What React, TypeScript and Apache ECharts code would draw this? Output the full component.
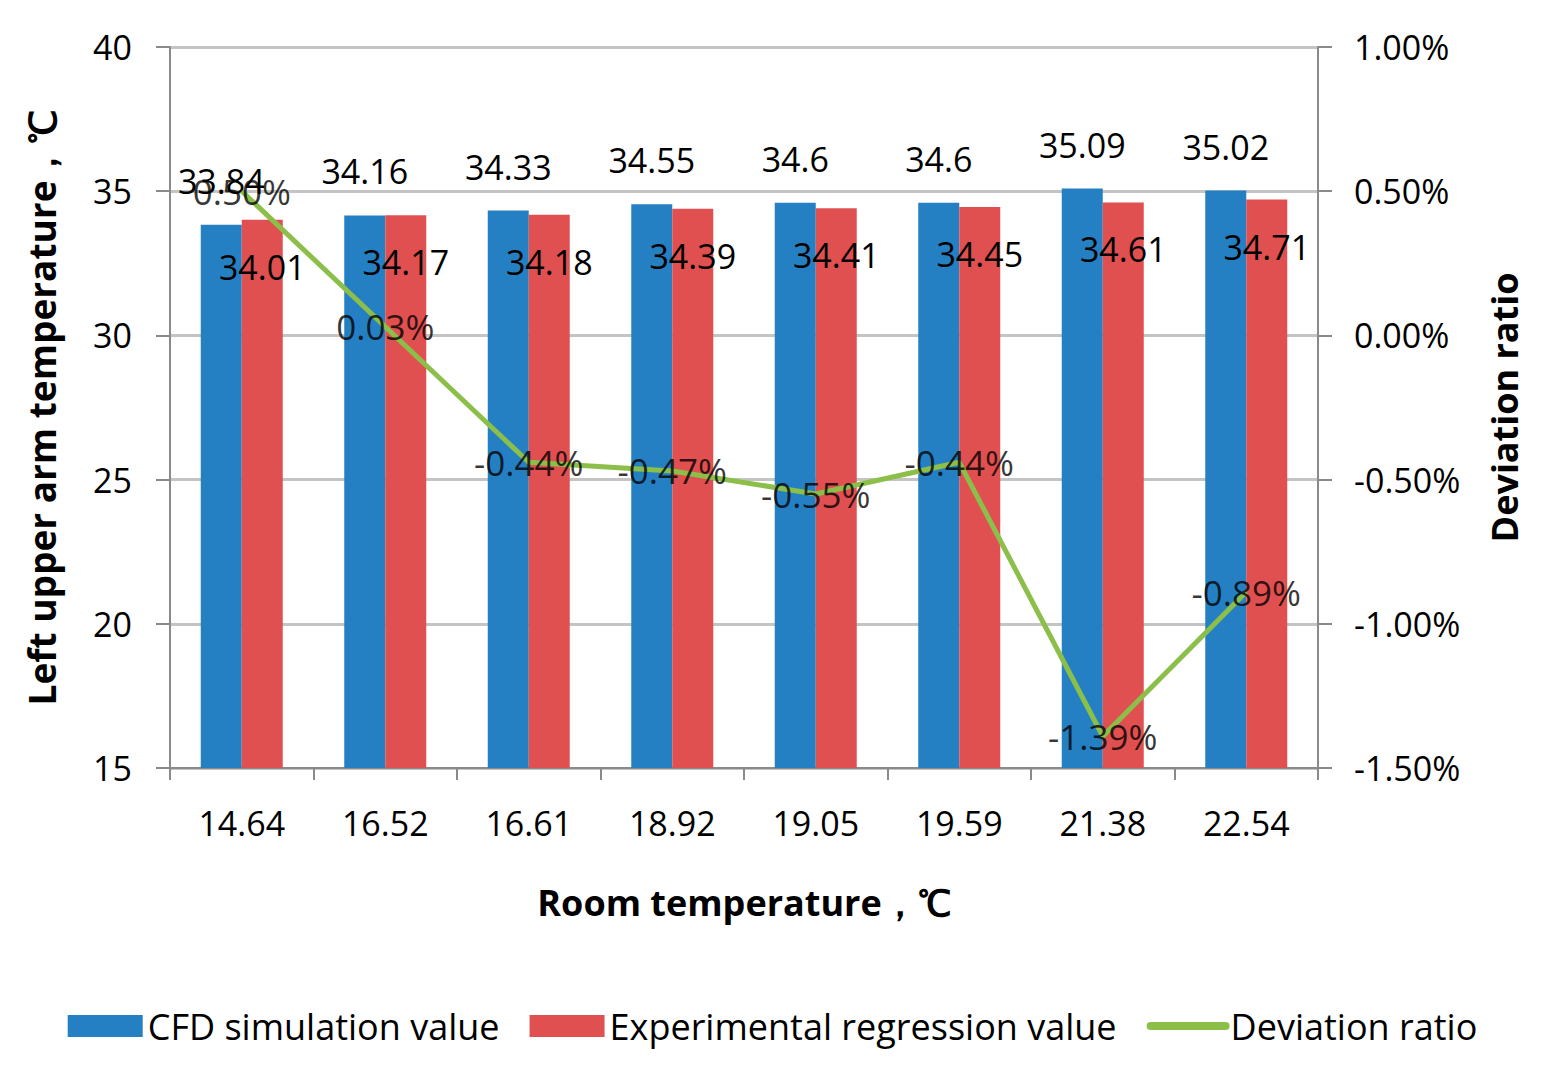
import React, { useEffect, useRef } from "react";
import * as echarts from "echarts";

const categories = ["14.64", "16.52", "16.61", "18.92", "19.05", "19.59", "21.38", "22.54"];
const cfdValues = [33.84, 34.16, 34.33, 34.55, 34.6, 34.6, 35.09, 35.02];
const expValues = [34.01, 34.17, 34.18, 34.39, 34.41, 34.45, 34.61, 34.71];
const deviation = [0.5, 0.03, -0.44, -0.47, -0.55, -0.44, -1.39, -0.89];

const FONT = "Open Sans";

export default function App() {
  const ref = useRef<HTMLDivElement>(null);
  useEffect(() => {
    document.body.style.margin = "0";
    const chart = echarts.init(ref.current!, null, { renderer: "svg" });
    const axisLine = { show: true, onZero: false, lineStyle: { color: "#8a8a8a", width: 2 } };
    const axisTick = { show: true, length: 14, lineStyle: { color: "#8a8a8a", width: 2 } };
    chart.setOption({
      animation: false,
      backgroundColor: "#ffffff",
      textStyle: { fontFamily: FONT },
      grid: { left: 170, right: 227, top: 47, bottom: 307, containLabel: false },
      legend: {
        bottom: 26,
        left: "center",
        itemWidth: 75,
        itemHeight: 22,
        itemGap: 30,
        textStyle: { fontFamily: FONT, fontSize: 36, color: "#000" },
        data: [
          { name: "CFD simulation value", icon: "rect" },
          { name: "Experimental regression value", icon: "rect" },
          {
            name: "Deviation ratio",
            lineStyle: { width: 8, cap: "round" },
            itemStyle: { opacity: 0 },
          },
        ],
      },
      xAxis: {
        type: "category",
        data: categories,
        name: "Room temperature，℃",
        nameLocation: "middle",
        nameGap: 116,
        nameTextStyle: { fontFamily: FONT, fontSize: 36, fontWeight: "bold", color: "#000" },
        axisLine,
        axisTick: { ...axisTick, length: 12 },
        axisLabel: { fontFamily: FONT, fontSize: 34, color: "#000", margin: 38 },
        splitLine: { show: false },
      },
      yAxis: [
        {
          type: "value",
          min: 15,
          max: 40,
          interval: 5,
          name: "Left upper arm temperature，℃",
          nameLocation: "middle",
          nameGap: 110,
          nameTextStyle: { fontFamily: FONT, fontSize: 37, fontWeight: "bold", color: "#000" },
          axisLine,
          axisTick,
          axisLabel: { fontFamily: FONT, fontSize: 34, color: "#000", margin: 38 },
          splitLine: { show: true, lineStyle: { color: "#c4c4c4", width: 3 } },
        },
        {
          type: "value",
          min: -1.5,
          max: 1.0,
          interval: 0.5,
          name: "Deviation ratio",
          nameLocation: "middle",
          nameGap: 168,
          nameRotate: 90,
          nameTextStyle: { fontFamily: FONT, fontSize: 36, fontWeight: "bold", color: "#000" },
          axisLine,
          axisTick,
          axisLabel: {
            fontFamily: FONT,
            fontSize: 34,
            color: "#000",
            margin: 36,
            formatter: (v: number) => v.toFixed(2) + "%",
          },
          splitLine: { show: false },
        },
      ],
      series: [
        {
          name: "CFD simulation value",
          type: "bar",
          data: cfdValues,
          barWidth: 41,
          barGap: "0%",
          itemStyle: { color: "#2580c3" },
          label: {
            show: true,
            position: "top",
            distance: 27,
            fontFamily: FONT,
            fontSize: 34,
            color: "#000",
          },
        },
        {
          name: "Experimental regression value",
          type: "bar",
          data: expValues,
          barWidth: 41,
          barGap: "0%",
          itemStyle: { color: "#e05050" },
          label: {
            show: true,
            position: "insideTop",
            distance: 30,
            fontFamily: FONT,
            fontSize: 34,
            color: "#000",
          },
        },
        {
          name: "Deviation ratio",
          type: "line",
          yAxisIndex: 1,
          data: deviation,
          symbol: "none",
          lineStyle: { color: "#8cbf4a", width: 5 },
          itemStyle: { color: "#8cbf4a" },
          z: 5,
        },
        {
          name: "Deviation labels",
          type: "scatter",
          yAxisIndex: 1,
          data: deviation,
          symbolSize: 0,
          itemStyle: { color: "transparent" },
          silent: true,
          label: {
            show: true,
            position: "inside",
            fontFamily: FONT,
            fontSize: 35,
            color: "#000",
            formatter: (p: any) => Number(p.value).toFixed(2) + "%",
          },
          z: 6,
        },
      ],
    });
    return () => chart.dispose();
  }, []);
  return <div ref={ref} style={{ width: 1545, height: 1075 }} />;
}
